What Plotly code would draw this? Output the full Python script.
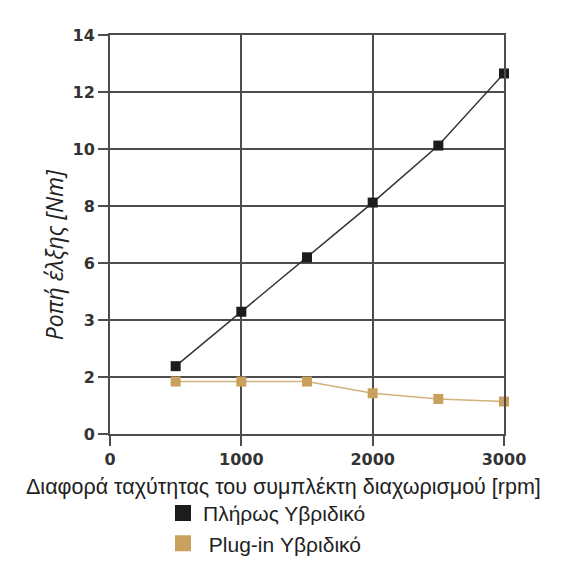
import plotly.graph_objects as go

rpm = [500, 1000, 1500, 2000, 2500, 3000]
full_hybrid = [2.38, 4.29, 6.2, 8.12, 10.12, 12.65]
plugin_hybrid = [1.84, 1.84, 1.84, 1.43, 1.23, 1.14]

y_tickvals = [0, 2, 4, 6, 8, 10, 12, 14]
y_ticktext = ["0", "2", "3", "6", "8", "10", "12", "14"]
x_tickvals = [0, 1000, 2000, 3000]

series_names = ["Πλήρως Υβριδικό", "\u00a0Plug-in Υβριδικό"]
x_title = "Διαφορά ταχύτητας του συμπλέκτη διαχωρισμού [rpm]"
y_title = "Ροπή έλξης [Nm]"

black = "#1c1c1c"
gold = "#c9a15c"
grid = "#4d4d4d"
tick_font = dict(family="DejaVu Sans, sans-serif", size=16, color="#333333", weight="bold")

fig = go.Figure()
fig.add_trace(go.Scatter(x=rpm, y=plugin_hybrid, mode="lines+markers",
                         line=dict(color="#d2b27c", width=1.5),
                         marker=dict(symbol="square", size=10, color=gold),
                         showlegend=False, cliponaxis=False))
fig.add_trace(go.Scatter(x=rpm, y=full_hybrid, mode="lines+markers",
                         line=dict(color="#333333", width=1.5),
                         marker=dict(symbol="square", size=10, color=black),
                         showlegend=False, cliponaxis=False))
# legend-only entries (square swatches)
fig.add_trace(go.Scatter(x=[None], y=[None], mode="markers", name=series_names[0],
                         marker=dict(symbol="square", size=20, color=black)))
fig.add_trace(go.Scatter(x=[None], y=[None], mode="markers", name=series_names[1],
                         marker=dict(symbol="square", size=20, color=gold)))

fig.update_layout(
    width=568, height=580,
    margin=dict(l=110, r=64, t=35, b=146),
    plot_bgcolor="white", paper_bgcolor="white",
    font=dict(family="Liberation Sans, Arial, sans-serif", color="#222222"),
    legend=dict(orientation="v", x=0.1345, xanchor="left", y=-0.1475, yanchor="top",
                font=dict(size=21, color="#222222"), tracegroupgap=0,
                itemsizing="trace", bgcolor="rgba(0,0,0,0)"),
    annotations=[
        dict(text=y_title, textangle=-90, xref="paper", yref="paper",
             x=-0.14, y=0.45, xanchor="center", yanchor="middle",
             showarrow=False,
             font=dict(family="Open Sans, Noto Sans, sans-serif", size=23,
                       color="#222222", style="italic")),
        dict(text=x_title, xref="paper", yref="paper",
             x=0.4416, y=-0.133, xanchor="center", yanchor="middle",
             showarrow=False,
             font=dict(size=21.5, color="#222222")),
    ],
)
fig.update_xaxes(
    range=[0, 3000], tickvals=x_tickvals, showgrid=True, gridcolor=grid, gridwidth=1.5,
    showline=True, linecolor=grid, linewidth=2, mirror=True,
    ticks="outside", ticklen=10, tickcolor=grid, tickwidth=1.5,
    tickfont=tick_font, zeroline=False,
)
fig.update_yaxes(
    range=[0, 14], tickvals=y_tickvals, ticktext=y_ticktext, showgrid=True,
    gridcolor=grid, gridwidth=2,
    showline=True, linecolor=grid, linewidth=2, mirror=True,
    ticks="outside", ticklen=10, tickcolor=grid, tickwidth=1.5,
    tickfont=tick_font, zeroline=False,
)

fig.write_html("out.html")
